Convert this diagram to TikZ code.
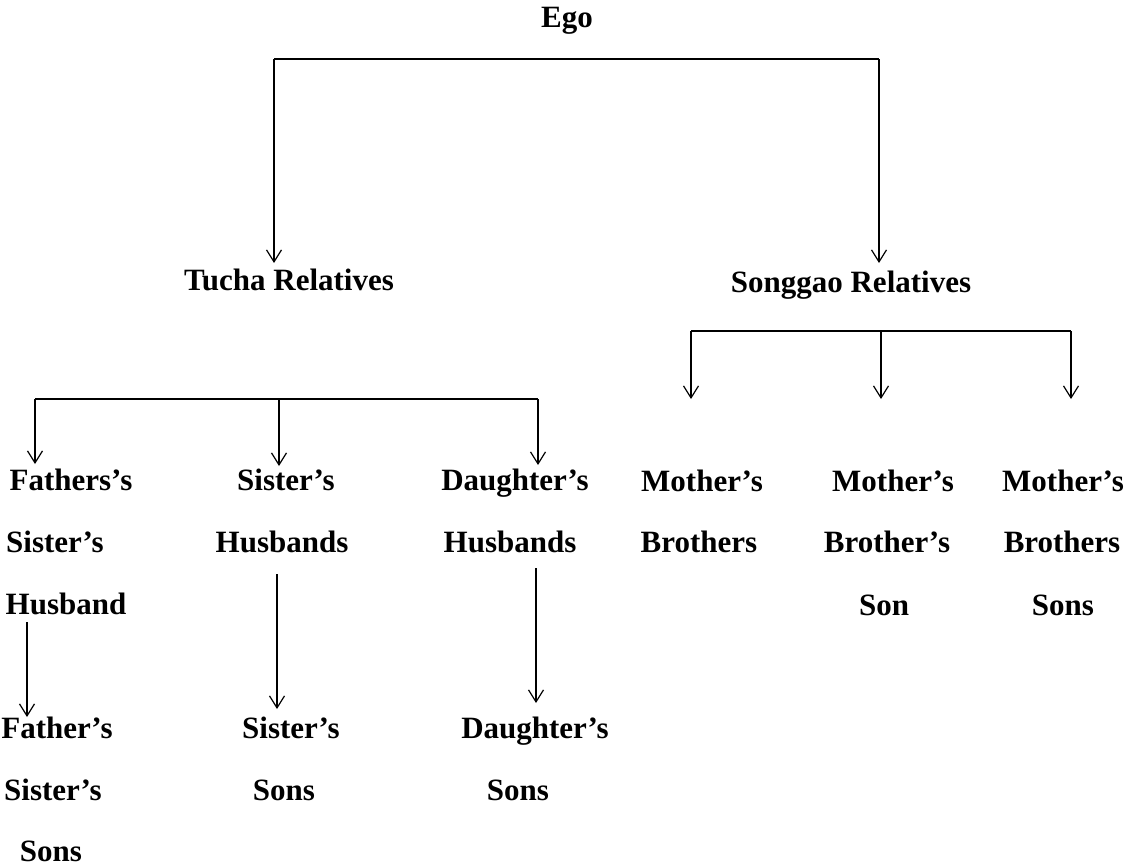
\documentclass[tikz,border=0pt]{standalone}
\usepackage{fontspec}
\setmainfont{Liberation Serif}
\usetikzlibrary{arrows.meta}
\begin{document}
\begin{tikzpicture}[x=0.5pt,y=-0.5pt,
  lbl/.style={font=\bfseries\fontsize{15.5}{18}\selectfont, inner sep=0pt, anchor=base},
  link/.style={line width=0.6pt},
  arr/.style={line width=0.6pt,-{Straight Barb[length=6pt,width=7.5pt]}}]
\useasboundingbox (0,0) rectangle (1129,867);

% labels
\node[lbl] (ego) at (567,27) {Ego};
\node[lbl] (tucha) at (289,290) {Tucha Relatives};
\node[lbl] (songgao) at (851,292) {Songgao Relatives};

\node[lbl] (fa1) at (71,490) {Fathers’s};
\node[lbl] (fa2) at (55,552) {Sister’s};
\node[lbl] (fa3) at (66,614) {Husband};
\node[lbl] (fb1) at (57,738) {Father’s};
\node[lbl] (fb2) at (53,800) {Sister’s};
\node[lbl] (fb3) at (51,861) {Sons};

\node[lbl] (sa1) at (286,490) {Sister’s};
\node[lbl] (sa2) at (282,552) {Husbands};
\node[lbl] (sb1) at (291,738) {Sister’s};
\node[lbl] (sb2) at (284,800) {Sons};

\node[lbl] (da1) at (515,490) {Daughter’s};
\node[lbl] (da2) at (510,552) {Husbands};
\node[lbl] (db1) at (535,738) {Daughter’s};
\node[lbl] (db2) at (518,800) {Sons};

\node[lbl] (ma1) at (702,491) {Mother’s};
\node[lbl] (ma2) at (699,552) {Brothers};
\node[lbl] (mb1) at (893,491) {Mother’s};
\node[lbl] (mb2) at (887,552) {Brother’s};
\node[lbl] (mb3) at (884,615) {Son};
\node[lbl] (mc1) at (1063,491) {Mother’s};
\node[lbl] (mc2) at (1062,552) {Brothers};
\node[lbl] (mc3) at (1063,615) {Sons};

% top bar
\coordinate (t1) at (274,59);
\coordinate (t2) at (879,59);
\coordinate (t1e) at (274,263);
\coordinate (t2e) at (879,263);
\draw[link] (t1) -- (t2);
\draw[arr] (t1) -- (t1e);
\draw[arr] (t2) -- (t2e);

% Tucha bar
\coordinate (l1) at (35,399);
\coordinate (l2) at (279,399);
\coordinate (l3) at (538,399);
\coordinate (l1e) at (35,464);
\coordinate (l2e) at (279,466);
\coordinate (l3e) at (538,465);
\draw[link] (l1) -- (l3);
\draw[arr] (l1) -- (l1e);
\draw[arr] (l2) -- (l2e);
\draw[arr] (l3) -- (l3e);

% Songgao bar
\coordinate (r1) at (691,331);
\coordinate (r2) at (881,331);
\coordinate (r3) at (1071,331);
\coordinate (r1e) at (691,399);
\coordinate (r2e) at (881,399);
\coordinate (r3e) at (1071,399);
\draw[link] (r1) -- (r3);
\draw[arr] (r1) -- (r1e);
\draw[arr] (r2) -- (r2e);
\draw[arr] (r3) -- (r3e);

% descent arrows
\coordinate (v1s) at (27,622);
\coordinate (v1e) at (27,717);
\coordinate (v2s) at (277,574);
\coordinate (v2e) at (277,709);
\coordinate (v3s) at (536,568);
\coordinate (v3e) at (536,703);
\draw[arr] (v1s) -- (v1e);
\draw[arr] (v2s) -- (v2e);
\draw[arr] (v3s) -- (v3e);
\end{tikzpicture}
\end{document}
